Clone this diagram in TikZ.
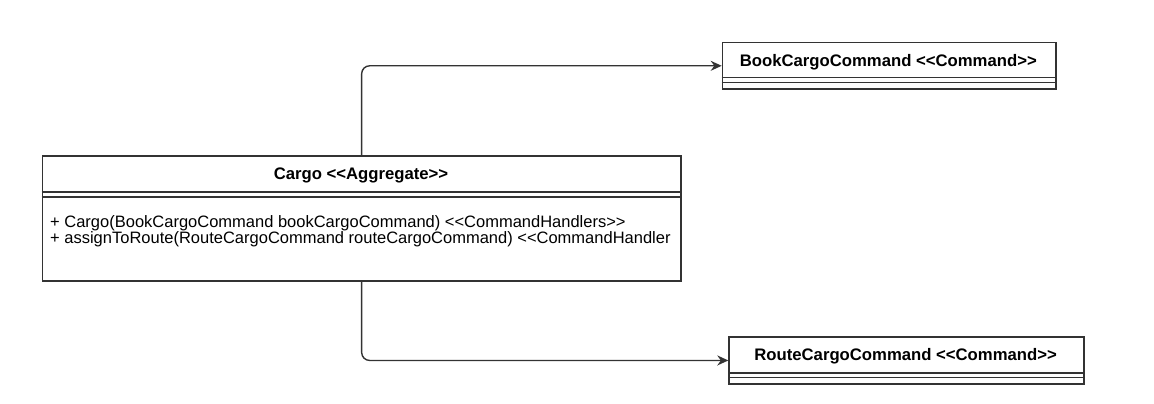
\documentclass[tikz,border=0pt]{standalone}
\usepackage{fontspec}
\setmainfont{Liberation Sans}
\usetikzlibrary{arrows.meta}

\definecolor{linegray}{RGB}{51,51,51}
\newcommand{\stereo}[1]{<{}<#1>{}>}

\begin{document}
\begin{tikzpicture}[x=1pt,y=1pt,yscale=-1,
  umlbox/.style={draw=linegray, line width=1.6pt, anchor=north west, inner sep=0pt},
  headtext/.style={font=\bfseries\fontsize{16.7}{18}\selectfont},
  bodytext/.style={font=\fontsize{16.5}{16}\selectfont, align=left, anchor=base west, inner sep=0pt},
  conn/.style={draw=linegray, line width=1.4pt, rounded corners=8pt, -{Stealth[length=11pt,width=10pt]}}]
\useasboundingbox (0,0) rectangle (1154,404);

%Cargo class
\node [umlbox, minimum width=638.3pt, minimum height=125pt] (cargo) at (41.7,155) {};
\draw [linegray, line width=1.6pt] (41.7,191.7) -- (680,191.7) ;
\draw [linegray, line width=1.6pt] (41.7,196.7) -- (680,196.7) ;
\node [headtext] (cargohead) at (361,175) {Cargo \stereo{Aggregate}};
\node [bodytext] (cargoops) at (50,243) {+ Cargo(BookCargoCommand bookCargoCommand) \stereo{CommandHandlers}\\+ assignToRoute(RouteCargoCommand routeCargoCommand) <{}<CommandHandler};

%BookCargoCommand class
\node [umlbox, minimum width=333.3pt, minimum height=46.6pt] (book) at (721.7,41.7) {};
\draw [linegray, line width=1.6pt] (721.7,77.7) -- (1055,77.7) ;
\draw [linegray, line width=1.6pt] (721.7,82.7) -- (1055,82.7) ;
\node [headtext] (bookhead) at (888.3,62) {BookCargoCommand \stereo{Command}};

%RouteCargoCommand class
\node [umlbox, minimum width=354.7pt, minimum height=47.3pt] (route) at (728.3,336) {};
\draw [linegray, line width=1.6pt] (728.3,372.7) -- (1083,372.7) ;
\draw [linegray, line width=1.6pt] (728.3,377.3) -- (1083,377.3) ;
\node [headtext] (routehead) at (905.6,356.5) {RouteCargoCommand \stereo{Command}};

%Connectors
\draw [conn] (cargo.north) |- (book.west) ;
\draw [conn] (cargo.south) |- (route.west) ;

\end{tikzpicture}
\end{document}
